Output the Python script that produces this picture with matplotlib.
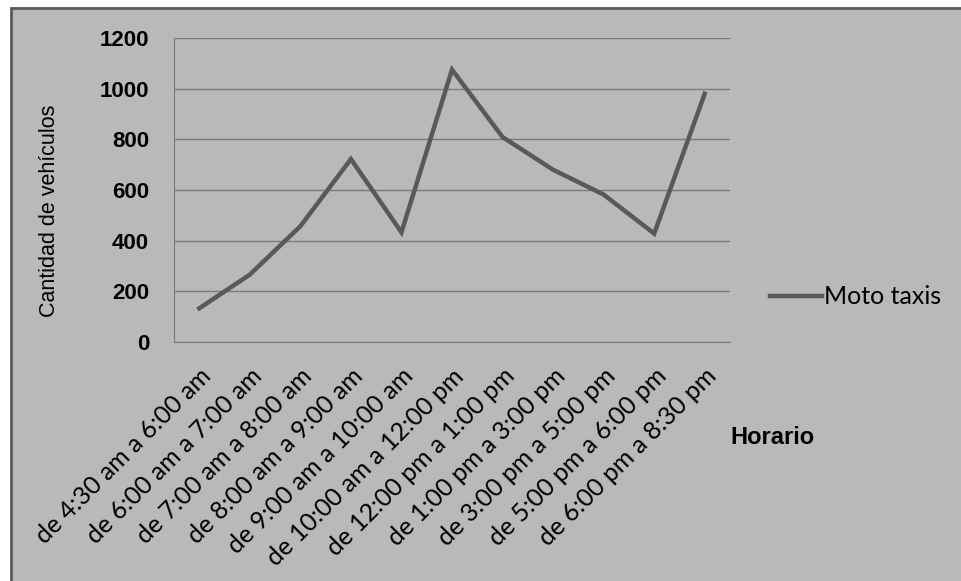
import matplotlib
matplotlib.use('Agg')
import matplotlib.pyplot as plt
from matplotlib.patches import Rectangle

# horarios y cantidad de moto taxis
horarios = ['de 4:30 am a 6:00 am', 'de 6:00 am a 7:00 am', 'de 7:00 am a 8:00 am',
            'de 8:00 am a 9:00 am', 'de 9:00 am a 10:00 am', 'de 10:00 am a 12:00 pm',
            'de 12:00 pm a 1:00 pm', 'de 1:00 pm a 3:00 pm', 'de 3:00 pm a 5:00 pm',
            'de 5:00 pm a 6:00 pm', 'de 6:00 pm a 8:30 pm']
moto_taxis = [133, 266, 457, 722, 433, 1075, 809, 680, 582, 428, 980]
y_ticks = [0, 200, 400, 600, 800, 1000, 1200]

W, H = 962, 581
bg = '#b9b9b9'
plt.rcParams['font.family'] = ['Liberation Sans', 'DejaVu Sans']

fig = plt.figure(figsize=(W / 100, H / 100), dpi=100, facecolor='white')
# fondo gris con borde (solo arriba e izquierda visibles)
fig.patches.append(Rectangle((11 / W, -0.05), 1.1, 1 - 8 / H + 0.05, transform=fig.transFigure,
                             facecolor=bg, edgecolor='#5a5a5a', linewidth=2, zorder=-10))

ax = fig.add_axes([174 / W, 1 - 342 / H, (730 - 174) / W, (342 - 38) / H])
ax.set_facecolor(bg)
x = list(range(len(horarios)))
line, = ax.plot(x, moto_taxis, color='#595959', linewidth=3.2, solid_joinstyle='miter')
ax.set_xlim(-0.5, len(horarios) - 0.5)
ax.set_ylim(0, 1200)
ax.set_yticks(y_ticks)
ax.set_yticklabels([str(v) for v in y_ticks], fontsize=16, fontweight='bold')
ax.yaxis.grid(True, color='#7a7a7a', linewidth=1)
ax.set_axisbelow(True)
ax.set_xticks(x)
ax.set_xticklabels(horarios, rotation=45, ha='right', rotation_mode='anchor', fontsize=18,
                   family=['Lato', 'DejaVu Sans'])
ax.tick_params(axis='y', length=0, pad=18)
ax.tick_params(axis='x', length=0, pad=16)
for s in ['top', 'right']:
    ax.spines[s].set_visible(False)
ax.spines['left'].set_color('#7a7a7a')
ax.spines['bottom'].set_color('#7a7a7a')

fig.text(50 / W, 1 - 211 / H, 'Cantidad de vehículos', rotation=90, ha='center', va='center',
         fontsize=15.5)
fig.text(730 / W, 1 - 438 / H, 'Horario', ha='left', va='center', fontsize=17, fontweight='bold')

fig.legend([line], ['Moto taxis'], loc='center left', bbox_to_anchor=(770 / W, 1 - 297 / H),
           frameon=False, borderpad=0, borderaxespad=0, handlelength=2.1, handletextpad=0.05,
           prop={'family': ['Lato', 'DejaVu Sans'], 'size': 18})

fig.savefig('out.png', dpi=100, facecolor='white')
